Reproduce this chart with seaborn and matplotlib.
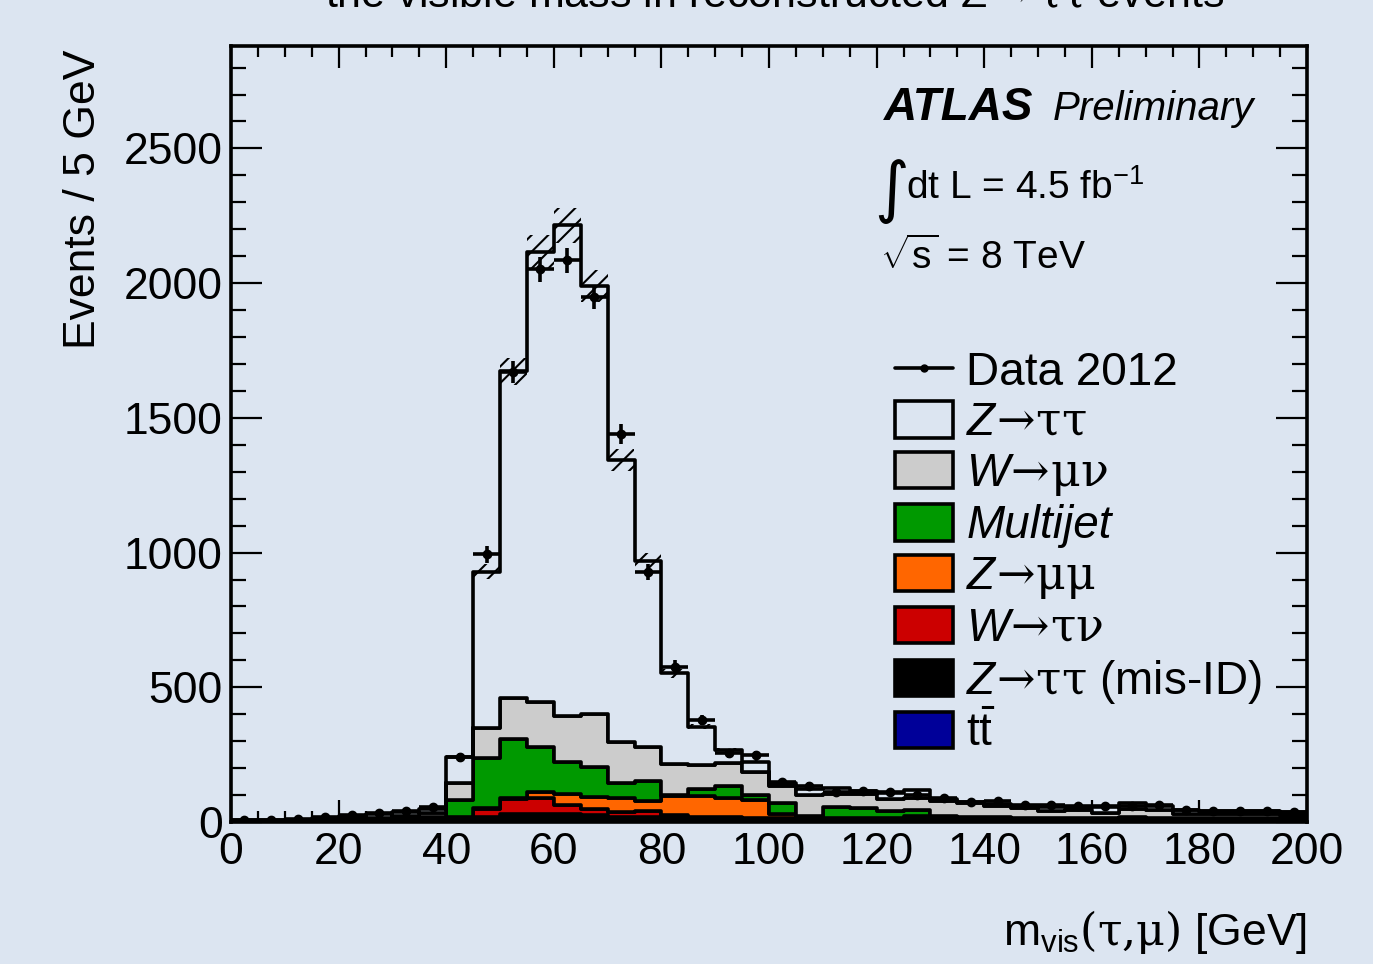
import numpy as np
import pandas as pd
import matplotlib
matplotlib.use("Agg")
import matplotlib.pyplot as plt
import seaborn as sns
from matplotlib.patches import Patch
from matplotlib.lines import Line2D
from matplotlib.ticker import MultipleLocator

# ---------------- data (events / 5 GeV) ----------------
bin_low = list(range(0, 200, 5))
ttbar = [0]*8 + [1]*12 + [2]*20
ztt_misid = [2, 2, 3, 4, 5, 6, 7, 9, 11, 17, 27, 29, 27, 24, 19, 17, 15, 13, 13, 13,
             12, 12, 11, 11, 11, 10, 10, 10, 10, 10, 10, 10, 10, 10, 10, 9, 9, 9, 9, 8]
w_taunu = [0, 0, 0, 0, 0, 0, 1, 1, 3, 32, 57, 58, 34, 23, 16, 22, 10, 6, 4, 2,
           1, 1, 1, 1, 1, 8, 8, 1, 1, 1, 1, 1, 1, 1, 1, 1, 1, 1, 1, 1]
z_mumu = [1, 1, 1, 1, 1, 2, 2, 3, 3, 2, 5, 22, 43, 44, 54, 38, 69, 76, 72, 66,
          13, 3, 2, 1, 1, 1, 1, 1, 1, 1, 1, 1, 1, 1, 1, 1, 1, 1, 1, 1]
multijet = [0, 0, 0, 1, 2, 2, 3, 5, 63, 185, 218, 169, 118, 113, 56, 73, 5, 26, 45, 20,
            42, 4, 39, 37, 25, 24, 3, 4, 4, 2, 2, 1, 1, 4, 2, 1, 1, 1, 1, 1]
w_munu = [1, 1, 2, 3, 4, 6, 9, 17, 64, 112, 153, 166, 170, 195, 151, 128, 115, 91, 83, 84,
          65, 80, 50, 53, 46, 45, 53, 54, 42, 37, 24, 30, 17, 32, 28, 16, 14, 14, 14, 12]
z_tautau = [2, 2, 3, 7, 10, 12, 16, 15, 96, 579, 1212, 1670, 1821, 1588, 1046, 691, 337, 141, 49, 38,
            9, 20, 20, 10, 22, 28, 7, 2, 7, 6, 17, 10, 24, 20, 16, 15, 14, 14, 14, 11]
data_2012 = [8, 8, 10, 20, 25, 32, 40, 55, 240, 994, 1670, 2051, 2085, 1947, 1439, 928, 576, 378, 255, 249,
             147, 135, 110, 115, 112, 100, 88, 75, 78, 62, 62, 58, 59, 60, 62, 45, 42, 42, 40, 37]
mc_rel_unc = 0.03

process_names = ["ztt", "wmunu", "multijet", "zmumu", "wtaunu", "misid", "ttbar"]
process_labels = [r"$Z\!\mathsf{\rightarrow\!\tau\tau}$", r"$W\!\mathsf{\rightarrow\!\mu\nu}$", "Multijet",
                  r"$Z\!\mathsf{\rightarrow\!\mu\mu}$", r"$W\!\mathsf{\rightarrow\!\tau\nu}$",
                  r"$Z\!\mathsf{\rightarrow\!\tau\tau}$ (mis-ID)", r"$\mathrm{t\bar{t}}$"]
bg = "#dce5f1"
process_colors = [bg, "#cccccc", "#009900", "#ff6600", "#cc0000", "#000000", "#000099"]
process_values = [z_tautau, w_munu, multijet, z_mumu, w_taunu, ztt_misid, ttbar]

# ---------------- style ----------------
sns.set_style("ticks")
plt.rcParams.update({
    "font.family": ["Liberation Sans", "DejaVu Sans"],
    "mathtext.fontset": "custom",
    "mathtext.rm": "Liberation Sans",
    "mathtext.it": "Liberation Sans:italic",
    "mathtext.bf": "Liberation Sans:bold",
    "mathtext.sf": "DejaVu Serif",
    "hatch.linewidth": 1.5,
    "figure.facecolor": bg,
    "axes.facecolor": bg,
    "text.color": "black",
    "axes.labelcolor": "black",
    "xtick.color": "black",
    "ytick.color": "black",
    "axes.edgecolor": "black",
})

W, H = 1373, 964
fig = plt.figure(figsize=(W/100, H/100), dpi=100)
L, R, T, B = 231, 1307, 46, 822
ax = fig.add_axes([L/W, 1-B/H, (R-L)/W, (B-T)/H])
ax.set_facecolor(bg)

centers = np.array(bin_low) + 2.5

rows = []
for name, vals in zip(process_names, process_values):
    for c, v in zip(centers, vals):
        rows.append({"mass": c, "weight": v, "process": name})
df = pd.DataFrame(rows)

LW = 2.6
sns.histplot(data=df, x="mass", weights="weight", hue="process", hue_order=process_names,
             multiple="stack", binwidth=5, binrange=(0, 200), element="step", fill=True, alpha=1,
             palette=dict(zip(process_names, process_colors)), edgecolor="black",
             linewidth=LW, legend=False, ax=ax)

total = np.sum(np.array(process_values), axis=0)
unc = total * mc_rel_unc
ax.bar(centers, 2*unc, bottom=total-unc, width=5, fill=False, hatch="//",
       linewidth=0, edgecolor="black", zorder=4)

data_arr = np.array(data_2012, dtype=float)
ax.errorbar(centers, data_arr, xerr=2.5, yerr=np.sqrt(data_arr), fmt="o", color="black",
            ms=6, elinewidth=LW, capsize=0, zorder=5)

ax.set_xlim(0, 200)
ax.set_ylim(0, 2880)
ax.xaxis.set_major_locator(MultipleLocator(20))
ax.xaxis.set_minor_locator(MultipleLocator(5))
ax.yaxis.set_major_locator(MultipleLocator(500))
ax.yaxis.set_minor_locator(MultipleLocator(100))
ax.tick_params(which="both", direction="in", top=True, right=True, width=1.6, labelsize=32)
ax.tick_params(axis="y", which="major", length=22, pad=6)
ax.tick_params(axis="y", which="minor", length=11)
ax.tick_params(axis="x", which="major", length=16, pad=7)
ax.tick_params(axis="x", which="minor", length=8)
for s in ax.spines.values():
    s.set_linewidth(LW)
    s.set_visible(True)

ax.set_xlabel(r"$\mathrm{m_{vis}}\mathsf{(\tau{,}\mu)}$ [GeV]", fontsize=32, loc="right")
ax.xaxis.set_label_coords(1.0, -(945-B)/(B-T))
ax.xaxis.label.set_va("baseline")
ax.set_ylabel("Events / 5 GeV", fontsize=32, loc="top")
ax.yaxis.set_label_coords((104-L)/(R-L), (B-50)/(B-T))

def ftext(x, y, s, **kw):
    fig.text(x/W, 1-y/H, s, va="baseline", **kw)

ftext(775, 7, r"the visible mass in reconstructed Z$\mathsf{\rightarrow\tau\tau}$ events", ha="center", fontsize=31)
ftext(884, 120, "ATLAS", fontsize=33, fontweight="bold", fontstyle="italic")
ftext(1053, 120, "Preliminary", fontsize=29, fontstyle="italic")
ftext(874, 210, "\u222b", fontsize=48, family="DejaVu Sans")
ftext(906, 199, r"dt L = 4.5 fb$^{\mathrm{-1}}$", fontsize=28)
ftext(880, 269, r"$\sqrt{\mathrm{s}}$ = 8 TeV", fontsize=28)

handles = [Line2D([0], [0], color="black", lw=LW, marker="o", ms=5)]
handles += [Patch(facecolor=c, edgecolor="black", linewidth=LW) for c in process_colors]
labels = ["Data 2012"] + process_labels
leg = ax.legend(handles, labels, loc="upper left", bbox_to_anchor=((895-L)/(R-L), (B-351)/(B-T)),
                frameon=False, fontsize=33, handlelength=1.26, handleheight=0.84,
                handletextpad=0.3, labelspacing=0.14, borderaxespad=0, borderpad=0)
leg.get_texts()[3].set_fontstyle("italic")

fig.savefig("out.png", dpi=100, facecolor=bg)
